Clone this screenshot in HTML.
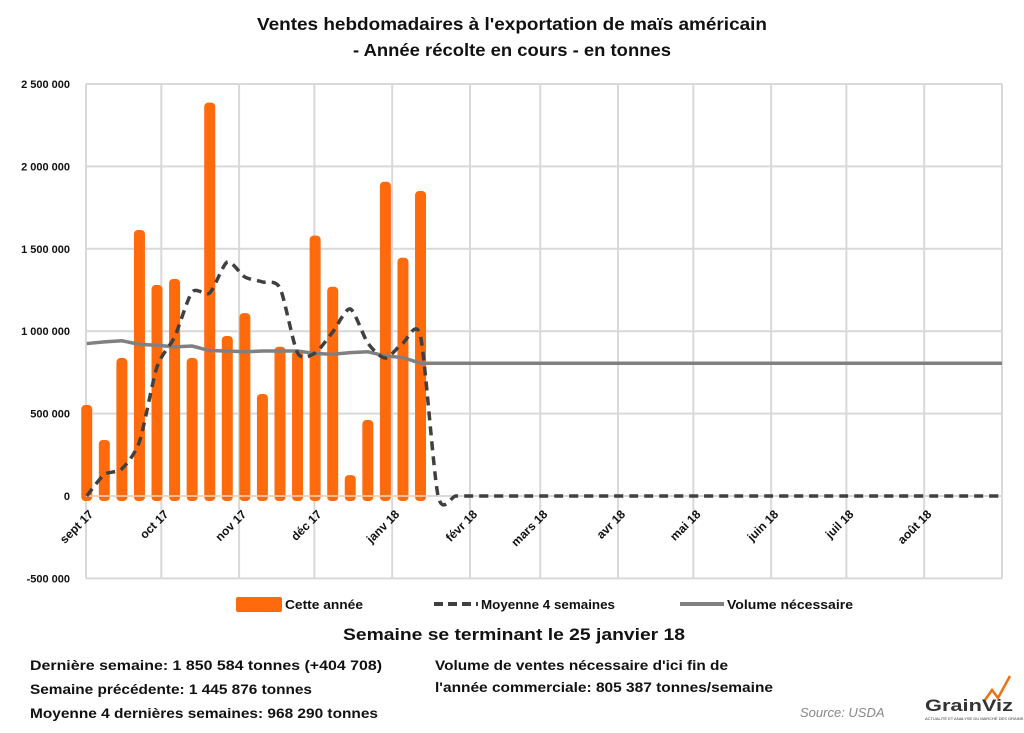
<!DOCTYPE html>
<html><head><meta charset="utf-8"><style>
body{margin:0;background:#fff;width:1024px;height:733px;overflow:hidden;font-family:"Liberation Sans",sans-serif}
svg{display:block}
.t{font-weight:bold;fill:#111}
</style></head><body>
<svg id="chart" width="1024" height="733" viewBox="0 0 1024 733">
<text class="t" x="512" y="30" text-anchor="middle" font-size="17.5" textLength="510" lengthAdjust="spacingAndGlyphs">Ventes hebdomadaires à l'exportation de maïs américain</text>
<text class="t" x="512" y="56" text-anchor="middle" font-size="17.5" textLength="318" lengthAdjust="spacingAndGlyphs">- Année récolte en cours - en tonnes</text>
<g id="grid"></g><g id="bars"></g><g id="lines"></g><g id="axes"></g>
<g>
<rect x="236" y="597" width="46" height="15" rx="2" fill="#ff6a0d"/>
<text x="285" y="609" font-size="13" class="t" textLength="78" lengthAdjust="spacingAndGlyphs">Cette année</text>
<line x1="434" y1="604" x2="478" y2="604" stroke="#404040" stroke-width="4" stroke-dasharray="9,5"/>
<text x="481" y="609" font-size="13" class="t" textLength="134" lengthAdjust="spacingAndGlyphs">Moyenne 4 semaines</text>
<line x1="680" y1="604" x2="724" y2="604" stroke="#808080" stroke-width="4"/>
<text x="727" y="609" font-size="13" class="t" textLength="126" lengthAdjust="spacingAndGlyphs">Volume nécessaire</text>
</g>
<text class="t" x="514" y="640" text-anchor="middle" font-size="17" textLength="342" lengthAdjust="spacingAndGlyphs">Semaine se terminant le 25 janvier 18</text>
<text class="t" x="30" y="670" font-size="14" textLength="352" lengthAdjust="spacingAndGlyphs">Dernière semaine: 1 850 584 tonnes (+404 708)</text>
<text class="t" x="30" y="694" font-size="14" textLength="282" lengthAdjust="spacingAndGlyphs">Semaine précédente: 1 445 876 tonnes</text>
<text class="t" x="30" y="718" font-size="14" textLength="348" lengthAdjust="spacingAndGlyphs">Moyenne 4 dernières semaines: 968 290 tonnes</text>
<text class="t" x="435" y="670" font-size="14" textLength="293" lengthAdjust="spacingAndGlyphs">Volume de ventes nécessaire d'ici fin de</text>
<text class="t" x="435" y="692" font-size="14" textLength="338" lengthAdjust="spacingAndGlyphs">l'année commerciale: 805 387 tonnes/semaine</text>
<text x="800" y="717" font-size="13" font-style="italic" fill="#888">Source: USDA</text>
<g>
<text x="925" y="711" font-size="17" font-weight="bold" fill="#333" textLength="88" lengthAdjust="spacingAndGlyphs">GrainViz</text>
<polyline points="985,700 992,690 998,698 1010,676" fill="none" stroke="#f07010" stroke-width="2.5"/>
<text x="925" y="720" font-size="4" fill="#333">ACTUALITÉ ET ANALYSE DU MARCHÉ DES GRAINS</text>
</g>
</svg>
<script>
const months=["sept 17","oct 17","nov 17","déc 17","janv 18","févr 18","mars 18","avr 18","mai 18","juin 18","juil 18","août 18"];
const monthDays=[0,30,61,91,122,153,181,212,242,273,303,334];
const yTicks=[2500000,2000000,1500000,1000000,500000,0,-500000];
const yTickLabels=["2 500 000","2 000 000","1 500 000","1 000 000","500 000","0","-500 000"];
const sales=[552000,340000,837000,1614000,1280000,1317000,837000,2387000,971000,1110000,619000,906000,880000,1580000,1270000,127000,461000,1907000,1446000,1850584];
const avg4=[0,130000,165000,330000,783000,965000,1238000,1232000,1420000,1329000,1299000,1262000,868000,868000,995000,1135000,928000,837000,928000,968290,0,0,0,0,0,0,0,0,0,0,0,0,0,0,0,0,0,0,0,0,0,0,0,0,0,0,0,0,0,0,0,0,0];
const needed=[925000,935000,942000,920000,915000,905000,910000,882000,880000,875000,880000,880000,880000,865000,860000,870000,875000,850000,840000,805387];
const neededFinal=805387;
const X0=86,X1=1002,Y0=496,PX=82.4/500000,DAYS=365,FIRST=0.3;
const xd=d=>X0+d*(X1-X0)/DAYS;
const xw=i=>xd(FIRST+7*i);
const y=v=>Y0-v*PX;
const NS="http://www.w3.org/2000/svg";
function mk(tag,attrs,parent){const e=document.createElementNS(NS,tag);for(const k in attrs)e.setAttribute(k,attrs[k]);document.getElementById(parent).appendChild(e);return e;}
yTicks.forEach((v,i)=>{
 const l=mk("line",{x1:X0,x2:X1,y1:y(v),y2:y(v),stroke:"#d9d9d9","stroke-width":2},"grid");
 
 
 const t=mk("text",{x:70,y:y(v)+4,"text-anchor":"end","font-size":11,"font-weight":"bold",fill:"#111"},"axes");
 t.textContent=yTickLabels[i];
 
 
});
monthDays.concat([365]).forEach((d,i)=>{
 const l=mk("line",{x1:xd(d),x2:xd(d),y1:y(2500000),y2:y(-500000),stroke:"#d9d9d9","stroke-width":2},"grid");
 
 
 if(i<months.length){
  const gx=xd(d)+8,gy=515;
  const t=mk("text",{x:gx,y:gy,"text-anchor":"end","font-size":12,"font-weight":"bold",fill:"#111",transform:`rotate(-45 ${gx} ${gy})`},"axes");
  t.textContent=months[i];
  
  
 }
});
sales.forEach((v,i)=>{
 const cx=xw(i),w=11,top=y(v),bot=y(0)+5;
 const r=mk("rect",{x:cx-w/2,y:top,width:w,height:bot-top,rx:4,fill:"#ff6a0d"},"bars");
 
 
});
mk("line",{x1:X0,x2:430,y1:Y0,y2:Y0,stroke:"#fbd3b8","stroke-width":1.5},"bars");
function smooth(pts){let d=`M${pts[0][0]},${pts[0][1]}`;const k=8;for(let i=0;i<pts.length-1;i++){const p0=pts[Math.max(0,i-1)],p1=pts[i],p2=pts[i+1],p3=pts[Math.min(pts.length-1,i+2)];d+=`C${p1[0]+(p2[0]-p0[0])/k},${p1[1]+(p2[1]-p0[1])/k} ${p2[0]-(p3[0]-p1[0])/k},${p2[1]-(p3[1]-p1[1])/k} ${p2[0]},${p2[1]}`;}return d;}
const np=needed.map((v,i)=>`${xw(i)},${y(v)}`);np.push(`${X1},${y(neededFinal)}`);
const g=mk("polyline",{points:np.join(" "),fill:"none",stroke:"#808080","stroke-width":3.5},"lines");


const ap=avg4.map((v,i)=>[xw(i),y(v)]).filter(p=>p[0]<=X1);ap.push([X1,y(0)]);
const a=mk("path",{d:smooth(ap),fill:"none",stroke:"#404040","stroke-width":3.5,"stroke-dasharray":"9,6"},"lines");


</script>
</body></html>
